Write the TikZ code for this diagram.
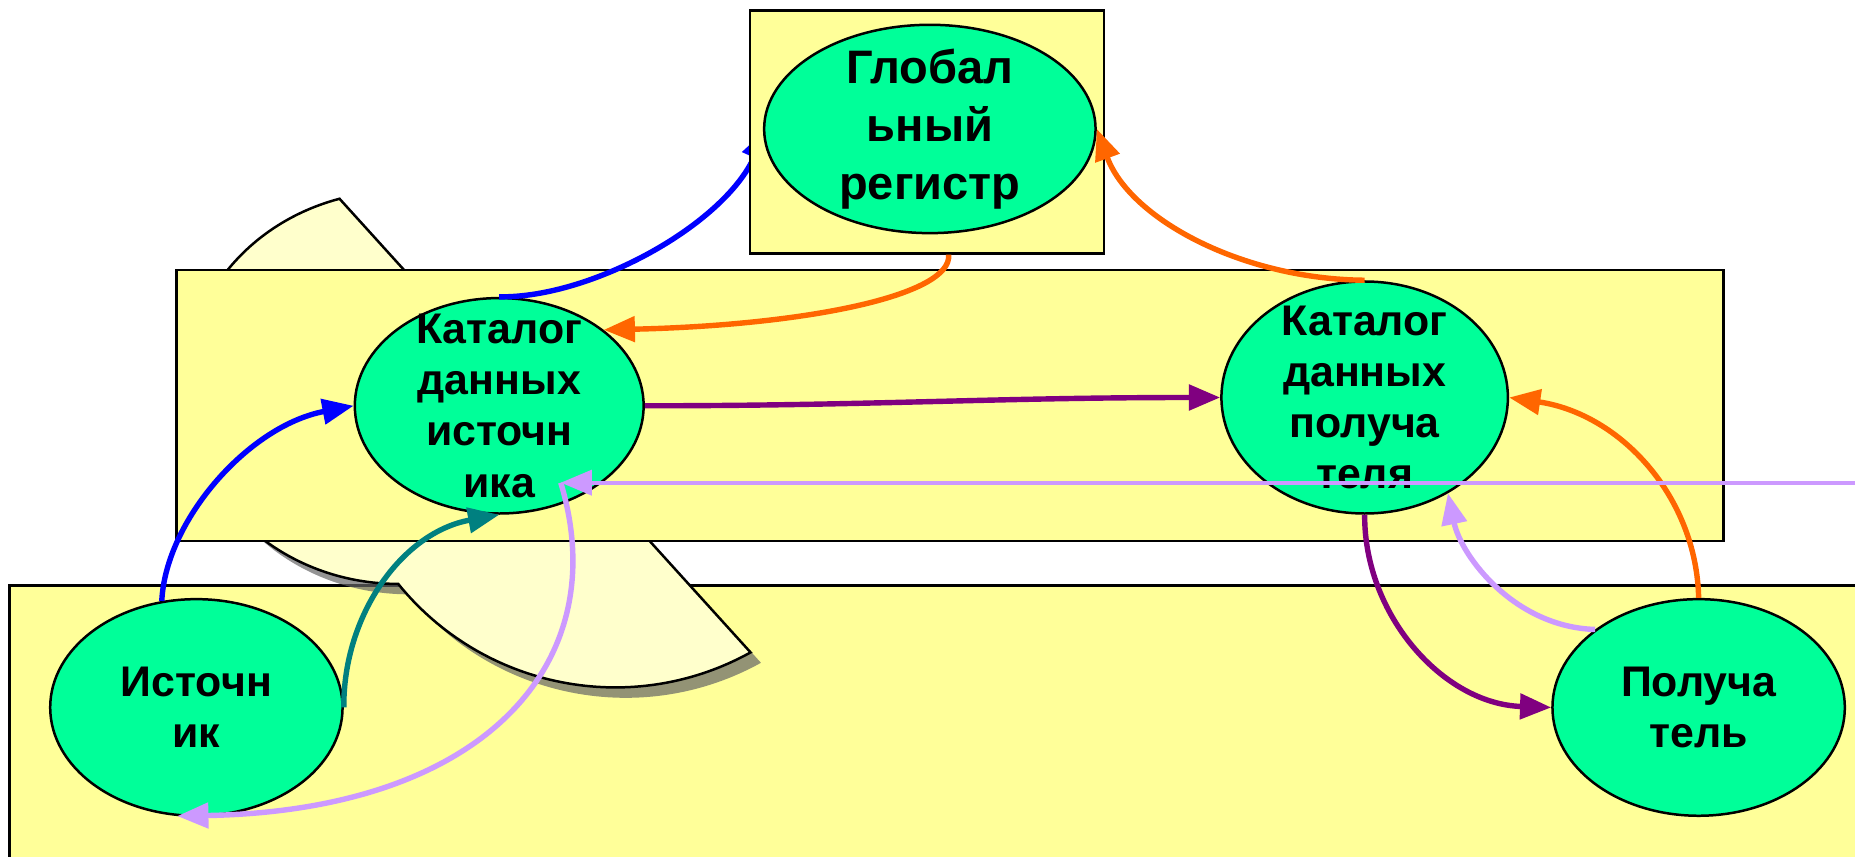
\documentclass[tikz,border=0pt]{standalone}
\usepackage{fontspec}
\setmainfont{Liberation Sans}
\usetikzlibrary{positioning}
\usetikzlibrary{arrows.meta}
\usetikzlibrary{shapes.geometric}
\usetikzlibrary{shadows}
\definecolor{panelyellow}{HTML}{FFFF99}
\definecolor{fanyellow}{HTML}{FFFFCC}
\definecolor{storegreen}{HTML}{00FF99}
\definecolor{flowblue}{HTML}{0000FF}
\definecolor{floworange}{HTML}{FF6600}
\definecolor{flowpurple}{HTML}{800080}
\definecolor{flowteal}{HTML}{008080}
\definecolor{flowlilac}{HTML}{CC99FF}
\tikzset{
  panel/.style= {
    rectangle,
    draw = black,
    fill = panelyellow,
    line width = 0.6pt,
    anchor = north west,
    inner sep = 0pt
  },
  fanpiece/.style= {
    draw = black,
    fill = fanyellow,
    line width = 0.6pt,
    drop shadow = {shadow xshift=2.5pt, shadow yshift=-2.5pt, fill=black!60, opacity=0.7}
  },
  store/.style= {
    ellipse,
    draw = black,
    fill = storegreen,
    line width = 0.6pt,
    inner sep = -4mm,
    align = center,
    font = \fontsize{10.3}{12.3}\selectfont\bfseries
  },
  flow/.style= {
    line width = 1.3pt,
    -{Triangle[length=7.5pt,width=6pt]}
  }
}
\begin{document}
\begin{tikzpicture}[x=0.01cm,y=-0.01cm]
  \useasboundingbox (0,0) rectangle (1568,724);
  \clip (0,0) rectangle (1568,724);

  \node[panel,minimum width=16cm,minimum height=3cm] (low) at (7,494) {};
  \path[fanpiece] (287,168) arc[start angle=254,end angle=90,x radius=180,y radius=166]
    arc[start angle=141,end angle=61,radius=236] -- cycle;
  \node[panel,minimum width=13.07cm,minimum height=2.29cm] (mid) at (148,227) {};

  \node[store,minimum width=2.44cm,minimum height=1.82cm] (cs) at (422,343) {Каталог\\данных\\источн\\ика};
  \node[store,minimum width=2.42cm,minimum height=1.96cm,right=4.86cm of cs,yshift=0.07cm] (cr) {Каталог\\данных\\получа\\теля};
  \node[store,minimum width=2.47cm,minimum height=1.83cm] (src) at (166,598) {Источн\\ик};
  \node[store,minimum width=2.47cm,minimum height=1.83cm,right=10.2cm of src] (rcv) {Получа\\тель};

  \coordinate (gin) at (648,109);
  \draw[flow,flowblue] (cs.north) .. controls (500,252) and (612,190) .. (gin);

  \node[panel,minimum width=2.99cm,minimum height=2.05cm] (gbox) at (633,8) {};
  \node[store,minimum width=2.8cm,minimum height=1.76cm,font=\fontsize{11.3}{13.9}\selectfont\bfseries] (ge) at (786,109) {Глобал\\ьный\\регистр};

  \draw[flow,floworange] (gbox.-80) .. controls (805,250) and (680,275) .. (cs.36);
  \draw[flow,floworange] (cr.north) .. controls (1050,236) and (955,185) .. (ge.east);
  \draw[flow,floworange] (rcv.north) .. controls (1434,420) and (1370,350) .. (cr.east);
  \draw[flow,flowblue] (src.108) .. controls (140,440) and (210,360) .. (cs.west);
  \draw[flow,flowpurple] (cs.east) to[out=0,in=180] (cr.west);
  \draw[flow,flowpurple] (cr.south) .. controls (1153,520) and (1220,595) .. (rcv.west);
  \draw[flow,flowteal] (src.east) .. controls (290,520) and (340,450) .. (cs.south);
  \draw[flow,flowlilac] (rcv.143) .. controls (1280,530) and (1235,470) .. (cr.-49);

  \coordinate (rin) at (1600,408);
  \coordinate (csin) at (474,408);
  \draw[flow,flowlilac,line width=1pt] (rin) -- (csin);
  \draw[flow,flowlilac] (csin) .. controls (520,560) and (410,685) .. (src.-100);

\end{tikzpicture}
\end{document}
